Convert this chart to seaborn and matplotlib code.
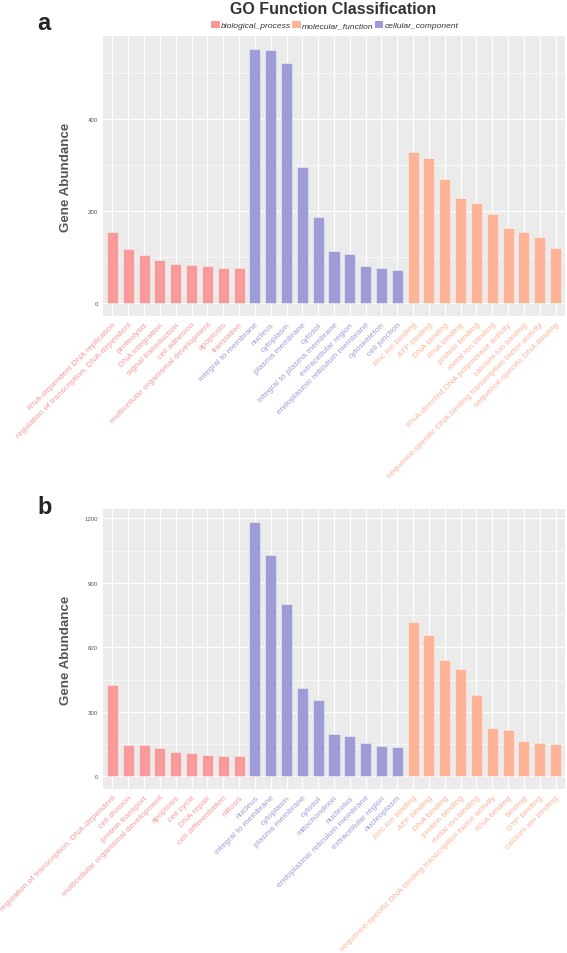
import matplotlib
matplotlib.use("Agg")
import matplotlib.pyplot as plt
import seaborn as sns
import pandas as pd
from matplotlib.patches import Patch
from matplotlib.ticker import MultipleLocator

# ---------------- data ----------------
groups = ["biological_process", "molecular_function", "cellular_component"]
colors = {"biological_process": "#F99A9A",
          "molecular_function": "#FDB496",
          "cellular_component": "#9C9CD8"}

a_bio_terms = ["RNA-dependent DNA replication", "regulation of transcription, DNA-dependent",
               "proteolysis", "DNA integration", "signal transduction", "cell adhesion",
               "multicellular organismal development", "apoptosis", "translation"]
a_bio_vals = [155, 118, 105, 95, 85, 84, 80, 77, 77]
a_cc_terms = ["integral to membrane", "nucleus", "cytoplasm", "plasma membrane", "cytosol",
              "integral to plasma membrane", "extracellular region",
              "endoplasmic reticulum membrane", "cytoskeleton", "cell junction"]
a_cc_vals = [553, 550, 522, 297, 188, 113, 107, 80, 77, 72]
a_mf_terms = ["zinc ion binding", "ATP binding", "DNA binding", "RNA binding", "protein binding",
              "metal ion binding", "RNA-directed DNA polymerase activity", "calcium ion binding",
              "sequence-specific DNA binding transcription factor activity",
              "sequence-specific DNA binding"]
a_mf_vals = [329, 315, 270, 229, 218, 195, 164, 155, 145, 121]

b_bio_terms = ["regulation of transcription, DNA-dependent", "cell division", "protein transport",
               "multicellular organismal development", "apoptosis", "cell cycle", "DNA repair",
               "cell differentiation", "mitosis"]
b_bio_vals = [424, 145, 145, 133, 111, 107, 99, 96, 94]
b_cc_terms = ["nucleus", "integral to membrane", "cytoplasm", "plasma membrane", "cytosol",
              "mitochondrion", "nucleolus", "endoplasmic reticulum membrane",
              "extracellular region", "nucleoplasm"]
b_cc_vals = [1184, 1031, 802, 411, 357, 196, 186, 155, 139, 135]
b_mf_terms = ["zinc ion binding", "ATP binding", "DNA binding", "protein binding",
              "metal ion binding", "sequence-specific DNA binding transcription factor activity",
              "RNA binding", "binding", "GTP binding", "calcium ion binding"]
b_mf_vals = [716, 657, 541, 501, 377, 226, 216, 165, 155, 150]

a_yticks = [0, 200, 400]
b_yticks = [0, 300, 600, 900, 1200]


def make_df(bio_t, bio_v, cc_t, cc_v, mf_t, mf_v):
    return pd.DataFrame({
        "term": bio_t + cc_t + mf_t,
        "count": bio_v + cc_v + mf_v,
        "group": ["biological_process"] * len(bio_t) + ["cellular_component"] * len(cc_t)
                 + ["molecular_function"] * len(mf_t),
    })


df_a = make_df(a_bio_terms, a_bio_vals, a_cc_terms, a_cc_vals, a_mf_terms, a_mf_vals)
df_b = make_df(b_bio_terms, b_bio_vals, b_cc_terms, b_cc_vals, b_mf_terms, b_mf_vals)

# ---------------- style ----------------
sns.set_style("white")
plt.rcParams["font.family"] = ["Liberation Sans", "DejaVu Sans"]

W, H = 567, 954
fig = plt.figure(figsize=(W / 100, H / 100), dpi=100)


def px_axes(left, top, right, bottom):
    return fig.add_axes([left / W, 1 - bottom / H, (right - left) / W, (bottom - top) / H])


def draw(ax, df, yticks, minor, ylim):
    ax.set_facecolor("#EBEBEB")
    sns.barplot(data=df, x="term", y="count", hue="group", palette=colors,
                order=list(df["term"]), dodge=False, width=0.7, legend=False,
                saturation=1, edgecolor="#F2F2F2", linewidth=0.4, ax=ax, zorder=3)
    n = len(df)
    ax.set_xlim(-0.6, n - 0.4)
    ax.set_ylim(*ylim)
    ax.set_yticks(yticks)
    ax.yaxis.set_minor_locator(MultipleLocator(minor))
    ax.grid(True, which="major", color="white", linewidth=0.9, zorder=0)
    ax.grid(True, which="minor", axis="y", color="white", linewidth=0.45, zorder=0)
    ax.set_axisbelow(True)
    for s in ax.spines.values():
        s.set_visible(False)
    ax.tick_params(axis="both", which="major", length=2, width=0.5, color="#555555",
                   labelsize=4.3, labelcolor="#555555", pad=1.5)
    ax.tick_params(axis="y", which="minor", length=0)
    ax.set_xticks(range(n))
    ax.set_xticklabels(df["term"], rotation=45, ha="right", rotation_mode="anchor",
                       fontsize=6.0)
    for lab, g in zip(ax.get_xticklabels(), df["group"]):
        lab.set_color(colors[g])
    ax.set_xlabel("")
    ax.set_ylabel("Gene Abundance", fontsize=9.6, fontweight="bold", color="#555555")
    ax.yaxis.set_label_coords(-0.067, 0.5)


ax_a = px_axes(103, 37, 565, 317)
draw(ax_a, df_a, a_yticks, 100, (-27.6, 580.6))
ax_b = px_axes(103, 510, 565, 790)
draw(ax_b, df_b, b_yticks, 150, (-59.2, 1243.2))

# title, legend, panel letters
fig.text(333 / W, 1 - 9 / H, "GO Function Classification", ha="center", va="center",
         fontsize=11.5, fontweight="bold", color="#333333")
handles = [Patch(facecolor=colors[g], edgecolor="none", label=g) for g in groups]
leg = fig.legend(handles=handles, loc="center", bbox_to_anchor=(335 / W, 1 - 26 / H), ncol=3,
                 frameon=False, fontsize=6.1, handlelength=1.0, handleheight=1.0,
                 handletextpad=0.2, columnspacing=0.1, borderpad=0)
for t in leg.get_texts():
    t.set_fontstyle("italic")
    t.set_color("#333333")
fig.text(44 / W, 1 - 24 / H, "a", ha="center", va="center", fontsize=17, fontweight="bold")
fig.text(45 / W, 1 - 507 / H, "b", ha="center", va="center", fontsize=17, fontweight="bold")

fig.savefig("out.png", dpi=100, facecolor="white")
